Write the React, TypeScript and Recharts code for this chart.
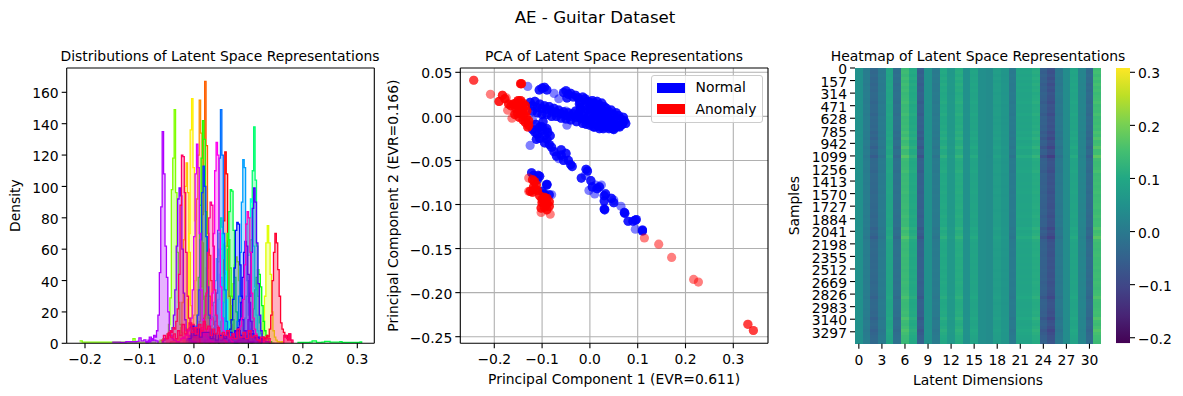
import React from 'react';
import {
  Area, Bar, BarChart, Cell, ComposedChart, Line, LineChart, ReferenceLine, Scatter, ScatterChart, XAxis, YAxis,
} from 'recharts';

const FONT = '"DejaVu Sans", sans-serif';
const TICK = { fill: '#000', fontSize: 13.9, fontFamily: FONT };
const YTICK = { ...TICK, dy: 1.2 };
const LABEL = { fill: '#000', fontSize: 13.9, fontFamily: FONT, textAnchor: 'middle' as const };
const LINE = { stroke: '#000', strokeWidth: 1.1 };

const fmt1 = (v: number) => v.toFixed(1).replace('-', '\u2212');
const fmt2 = (v: number) => v.toFixed(2).replace('-', '\u2212');

// ---------- latent histograms: density per bin, one list per latent dimension ----------
const binWidth = 0.0026;
const histPeaks = [
  0.058, 0.027, 0.021, 0.011, -0.013, -0.003, 0.136, 0.078, -0.035, 0.062, 0.017, 0.118, 0.068, 0.111, 0.05, 0.105,
  0.053, 0.045, 0.091, 0.05, 0.018, 0.08, 0.095, 0.111, -0.026, -0.057, 0.006, 0.042, 0.099, 0.031, -0.019, 0.15,
];
const hist00 = [1, 0, 2, 1, 3, 2, 2, 4, 6, 14, 34, 78, 122, 108, 62, 30, 12, 5, 3, 1, 2, 0, 1, 1];
const hist01 = [2, 1, 3, 2, 4, 3, 5, 6, 9, 16, 30, 48, 60, 56, 40, 24, 12, 7, 4, 3, 2, 1, 1, 0];
const hist02 = [1, 2, 1, 3, 2, 4, 5, 8, 14, 36, 82, 130, 167, 126, 70, 30, 11, 5, 3, 2, 1, 1, 0, 1];
const hist03 = [2, 1, 2, 3, 5, 4, 7, 9, 18, 40, 92, 120, 155, 134, 64, 28, 12, 6, 4, 2, 1, 1, 0, 0];
const hist04 = [0, 1, 1, 2, 1, 3, 2, 5, 10, 26, 66, 100, 115, 96, 58, 24, 10, 5, 2, 2, 1, 0, 1, 0];
const hist05 = [1, 1, 2, 1, 3, 2, 4, 6, 10, 28, 70, 136, 156, 112, 78, 34, 12, 6, 3, 2, 1, 1, 0, 0];
const hist06 = [0, 1, 0, 1, 1, 2, 2, 3, 6, 14, 30, 64, 75, 64, 44, 20, 8, 4, 2, 1, 1, 0, 1, 0];
const hist07 = [1, 2, 3, 2, 4, 3, 6, 8, 12, 24, 38, 50, 55, 52, 40, 26, 14, 8, 5, 3, 2, 1, 0, 1];
const hist08 = [0, 1, 2, 1, 3, 2, 4, 6, 12, 29, 98, 118, 149, 96, 58, 26, 12, 7, 4, 3, 2, 1, 1, 1];
const hist09 = [1, 2, 2, 3, 4, 5, 6, 9, 14, 26, 44, 62, 70, 66, 48, 30, 15, 8, 4, 3, 2, 1, 1, 0];
const hist10 = [1, 1, 3, 2, 4, 5, 6, 10, 18, 42, 88, 118, 142, 130, 84, 40, 16, 8, 4, 2, 1, 1, 1, 0];
const hist11 = [2, 2, 3, 4, 5, 4, 7, 9, 14, 22, 34, 42, 47, 44, 36, 24, 14, 8, 5, 3, 1, 1, 0, 0];
const hist12 = [1, 2, 2, 3, 3, 5, 6, 8, 16, 34, 60, 84, 98, 97, 72, 42, 20, 9, 4, 2, 2, 1, 0, 1];
const hist13 = [1, 1, 2, 2, 3, 3, 5, 7, 14, 32, 66, 110, 138, 104, 62, 30, 13, 6, 3, 2, 1, 1, 0, 0];
const hist14 = [2, 3, 2, 4, 4, 6, 7, 10, 18, 32, 52, 70, 80, 74, 54, 32, 16, 8, 5, 3, 2, 1, 1, 0];
const hist15 = [1, 2, 2, 3, 4, 5, 6, 9, 16, 30, 56, 80, 92, 90, 62, 36, 18, 8, 4, 2, 1, 1, 1, 0];
const hist16 = [2, 3, 3, 4, 5, 6, 8, 10, 16, 28, 44, 60, 70, 64, 46, 28, 14, 8, 4, 3, 2, 1, 0, 1];
const hist17 = [3, 2, 4, 4, 5, 7, 8, 11, 17, 26, 40, 54, 60, 56, 42, 26, 16, 9, 5, 3, 2, 1, 1, 0];
const hist18 = [1, 1, 2, 3, 3, 5, 5, 8, 14, 30, 58, 90, 117, 112, 76, 40, 18, 8, 4, 2, 1, 1, 0, 0];
const hist19 = [1, 2, 2, 3, 4, 4, 5, 8, 14, 32, 72, 118, 149, 120, 70, 34, 14, 7, 3, 2, 1, 1, 0, 1];
const hist20 = [2, 3, 2, 5, 4, 7, 8, 11, 18, 34, 66, 96, 113, 100, 68, 36, 18, 9, 5, 3, 2, 1, 1, 0];
const hist21 = [2, 2, 3, 4, 5, 6, 7, 9, 15, 28, 48, 72, 77, 76, 50, 30, 15, 8, 5, 3, 1, 1, 0, 1];
const hist22 = [2, 3, 3, 5, 5, 7, 8, 10, 15, 26, 42, 58, 65, 62, 44, 26, 14, 8, 4, 3, 2, 1, 1, 0];
const hist23 = [1, 2, 2, 3, 4, 4, 6, 8, 15, 30, 58, 86, 99, 90, 64, 38, 18, 8, 4, 3, 1, 1, 1, 0];
const hist24 = [1, 2, 3, 3, 5, 6, 7, 10, 18, 34, 62, 92, 99, 94, 60, 32, 15, 8, 5, 3, 2, 1, 1, 1];
const hist25 = [1, 0, 2, 1, 3, 2, 5, 4, 8, 18, 45, 87, 135, 108, 62, 42, 20, 8, 5, 3, 2, 2, 1, 1];
const hist26 = [2, 3, 4, 3, 6, 5, 8, 10, 16, 34, 68, 108, 127, 112, 70, 34, 15, 9, 6, 4, 3, 2, 1, 1];
const hist27 = [3, 4, 6, 5, 7, 6, 9, 10, 15, 32, 70, 110, 128, 120, 72, 36, 16, 8, 7, 5, 4, 3, 2, 1];
const hist28 = [4, 3, 6, 7, 5, 8, 9, 11, 16, 28, 50, 76, 84, 80, 58, 32, 16, 9, 6, 4, 3, 2, 1, 1];
const hist29 = [5, 4, 7, 6, 9, 7, 10, 12, 18, 32, 58, 80, 90, 88, 62, 34, 18, 11, 8, 6, 5, 3, 2, 1];
const hist30 = [3, 6, 5, 8, 7, 10, 9, 14, 22, 44, 88, 120, 119, 96, 58, 30, 16, 12, 9, 12, 8, 10, 6, 9];
const hist31 = [2, 1, 3, 2, 4, 3, 5, 4, 9, 18, 40, 58, 70, 64, 47, 30, 13, 9, 7, 4, 5, 2, 6, 2];
const histValues = [
  hist00, hist01, hist02, hist03, hist04, hist05, hist06, hist07, hist08, hist09, hist10,
  hist11, hist12, hist13, hist14, hist15, hist16, hist17, hist18, hist19, hist20, hist21,
  hist22, hist23, hist24, hist25, hist26, hist27, hist28, hist29, hist30, hist31,
];

// low far tails of a few dimensions, plus the noisy floor under the peaks
const tailGreenX = [-0.21, -0.205, -0.2, -0.116, -0.112, -0.108, -0.07];
const tailGreenY = [1.5, 0.7, 0.7, 0.9, 3, 0.7, 0];
const tailPurpleX = [-0.15, -0.135, -0.125, -0.105, -0.101, -0.097, -0.092, -0.088, -0.082, -0.078, -0.07, -0.066];
const tailPurpleY = [0.7, 0.5, 1, 1.2, 3.5, 1.5, 2.2, 1, 4, 2, 1.5, 0];
const tailRightX = [0.19, 0.213, 0.217, 0.225, 0.235, 0.24, 0.25, 0.268, 0.272, 0.305, 0.308];
const tailRightY = [0.6, 0.7, 1.6, 0.6, 0.8, 1.2, 0.7, 1, 0.5, 0.9, 0];
const floorBlueX = [-0.01, -0.005, 0, 0.005, 0.01, 0.015, 0.03, 0.035, 0.04, 0.045, 0.055, 0.06, 0.07, 0.075, 0.085, 0.09, 0.1, 0.11, 0.12, 0.125];
const floorBlueY = [3, 11, 5, 9, 4, 7, 3, 6, 2, 5, 3, 7, 4, 8, 5, 3, 6, 4, 3, 0];
const floorPinkX = [
  -0.06, -0.056, -0.052, -0.047, -0.043, -0.038, -0.034, -0.03, -0.026, -0.022, -0.017, -0.013, -0.009, -0.004, 0, 0.004, 0.008, 0.013, 0.017, 0.021, 0.025, 0.03, 0.034,
  0.038, 0.043, 0.047, 0.052, 0.056, 0.06, 0.065, 0.07, 0.074, 0.079, 0.084, 0.09, 0.095, 0.1, 0.105, 0.11, 0.116, 0.122, 0.128, 0.134, 0.14, 0.165, 0.17, 0.174, 0.178, 0.182,
];
const floorPinkY = [
  2, 5, 3, 7, 4, 6, 3, 8, 5, 12, 6, 9, 13, 7, 10, 6, 12, 8, 14, 9, 11, 5, 9,
  6, 10, 4, 7, 5, 8, 4, 6, 3, 9, 4, 7, 3, 8, 4, 5, 2, 4, 2, 3, 0, 5, 3, 6, 2, 0,
];

const histRows = histValues.map((values, d) => {
  const start = histPeaks[d] - 12.5 * binWidth;
  return [
    ...values.map((y, i) => ({ x: start + i * binWidth, y })),
    { x: start + values.length * binWidth, y: 0 },
  ];
});
const dimColor = (d: number) => `hsl(${(d / 32) * 360}, 100%, 50%)`;
const toRows = (xs: number[], ys: number[]) => xs.map((x, i) => ({ x, y: ys[i] }));

// ---------- PCA scatter: heavily overplotted clusters and the lone translucent points ----------
const normalCoreX = [
  -0.055, -0.05, -0.045, -0.04, -0.035, -0.03, -0.048, -0.025, -0.02, -0.015, -0.01, -0.005, -0.02, -0.012, -0.005, 0, 0.005, 0.01, 0.015, 0.02, 0.025, 0.03,
  0, 0.005, 0.012, 0.02, 0.028, 0.035, 0.04, 0.045, 0.05, 0.055, 0.06, 0.065, 0.07, 0.075, 0.072, 0.035, 0.042, 0.05, 0.058, 0.065,
  -0.125, -0.12, -0.115, -0.11, -0.105, -0.1, -0.095, -0.09, -0.085, -0.08, -0.075, -0.07, -0.065, -0.06, -0.055, -0.05, -0.045, -0.04, -0.035, -0.03, -0.025, -0.02, -0.015, -0.01, -0.005, 0, 0.005, 0.01, 0.015, 0.02, 0.025, 0.03, 0.035, 0.04, 0.045, 0.05, 0.055, 0.01, 0, 0.02,
  -0.12, -0.11, -0.1, -0.09, -0.08, -0.07, -0.06, -0.05, -0.04, -0.03, -0.028, -0.02, -0.012, -0.022, -0.015, -0.008, 0.008, 0.018, 0.028, 0.038, 0.048, 0.002, 0.012, 0.022, 0.032, 0.042, 0.052, 0.062, 0.008, 0.018, 0.028, 0.038, 0.048, 0.06, 0.068,
  -0.106, -0.1, -0.095, -0.09,
  -0.12, -0.115, -0.11, -0.105, -0.1, -0.105, -0.095, -0.09, -0.083, -0.085, -0.08, -0.075, -0.09, -0.095, -0.07, -0.06, -0.06, -0.05, -0.055, -0.045, -0.037, -0.04, -0.113, -0.098, -0.088, -0.112, -0.1,
  -0.018, -0.008, -0.005, 0.002, 0.005, 0.015, 0.02, 0.03, 0.033, 0.03, 0.03, 0.031, 0.045, 0.05, 0.072, 0.073, 0.08, 0.09, 0.095, 0.097, 0.11, 0.11,
  -0.122, -0.118, -0.105, -0.108, -0.11, -0.09, -0.09, -0.085, -0.095, -0.1,
];
const normalCoreY = [
  0.027, 0.029, 0.025, 0.026, 0.022, 0.024, 0.021, 0.021, 0.016, 0.022, 0.02, 0.017, 0.01, 0.012, 0.008, 0.016, 0.018, 0.015, 0.017, 0.013, 0.015, 0.011,
  0.009, 0.007, 0.006, 0.005, 0.006, 0.009, 0.005, 0.007, 0.002, 0.004, 0.001, -0.003, -0.001, -0.008, -0.005, 0.001, -0.002, -0.005, -0.006, -0.01,
  0.016, 0.012, 0.017, 0.01, 0.014, 0.009, 0.012, 0.008, 0.011, 0.006, 0.009, 0.004, 0.007, 0.003, 0.005, 0.001, 0.004, 0, 0.003, -0.001, 0.002, -0.002, 0.001, -0.004, -0.001, -0.005, -0.002, -0.007, -0.004, -0.01, -0.006, -0.012, -0.008, -0.014, -0.01, -0.015, -0.012, -0.012, -0.01, -0.014,
  0.006, 0.004, 0.002, 0.002, 0, 0, -0.002, -0.003, -0.004, 0.006, -0.006, 0.008, 0.004, 0.014, -0.008, -0.009, 0.01, 0.009, 0.001, -0.004, -0.008, 0.002, 0.001, -0.002, -0.004, -0.007, -0.01, -0.012, -0.012, -0.011, -0.014, -0.012, -0.014, -0.011, -0.009,
  0.03, 0.032, 0.033, 0.03,
  -0.015, -0.018, -0.02, -0.012, -0.016, -0.025, -0.022, -0.026, -0.022, -0.032, -0.035, -0.04, -0.014, -0.03, -0.045, -0.044, -0.038, -0.042, -0.05, -0.05, -0.057, -0.055, -0.009, -0.006, -0.018, -0.026, -0.012,
  -0.07, -0.06, -0.062, -0.073, -0.08, -0.082, -0.08, -0.09, -0.088, -0.096, -0.105, -0.106, -0.093, -0.098, -0.109, -0.11, -0.119, -0.119, -0.118, -0.117, -0.13, -0.129,
  -0.064, -0.067, -0.068, -0.067, -0.072, -0.077, -0.078, -0.089, -0.088, -0.085,
];
const normalLoneX = [-0.13, -0.075, -0.065, -0.125, -0.05, -0.048, -0.094, -0.065, 0.024, 0.01, -0.002, -0.01, 0.065, 0.095, -0.08, 0.012, 0.05, -0.12];
const normalLoneY = [0.034, 0.026, 0.02, -0.033, 0.006, -0.01, -0.015, -0.048, -0.078, -0.088, -0.084, -0.067, -0.102, -0.128, -0.089, -0.078, -0.095, -0.004];
const anomalyCoreX = [
  -0.145, -0.143, -0.183, -0.19, -0.178, -0.17, -0.165, -0.16, -0.155, -0.15, -0.145, -0.14, -0.155, -0.148, -0.14, -0.135, -0.132, -0.152, -0.145, -0.138, -0.148, -0.14, -0.133, -0.135, -0.128, -0.128, -0.157, -0.142, -0.13,
  -0.12, -0.116, -0.118, -0.112, -0.125, -0.12, -0.115, -0.11, -0.105, -0.1, -0.095, -0.09, -0.1, -0.095, -0.09, -0.085, -0.102, -0.095, -0.09, -0.085,
];
const anomalyCoreY = [
  0.037, 0.037, 0.024, 0.017, 0.02, 0.014, 0.012, 0.014, 0.015, 0.018, 0.018, 0.015, 0.009, 0.01, 0.008, 0.012, 0.006, 0.004, 0.003, 0.002, -0.001, -0.004, -0.001, -0.007, -0.005, -0.01, 0.002, 0.012, -0.012,
  -0.072, -0.074, -0.08, -0.078, -0.085, -0.086, -0.083, -0.084, -0.09, -0.094, -0.092, -0.093, -0.098, -0.098, -0.099, -0.097, -0.104, -0.103, -0.106, -0.102,
];
const anomalyLoneX = [-0.243, -0.243, -0.208, -0.175, -0.163, -0.172, -0.128, -0.128, -0.102, -0.083, 0.114, 0.144, 0.171, 0.217, 0.227, 0.33, 0.342, 0.331, 0.342];
const anomalyLoneY = [0.041, 0.041, 0.025, 0.021, -0.002, 0.007, -0.07, -0.085, -0.109, -0.111, -0.138, -0.145, -0.16, -0.185, -0.188, -0.236, -0.243, -0.236, -0.243];
const normalCoreRows = toRows(normalCoreX, normalCoreY);
const normalLoneRows = toRows(normalLoneX, normalLoneY);
const anomalyCoreRows = toRows(anomalyCoreX, anomalyCoreY);
const anomalyLoneRows = toRows(anomalyLoneX, anomalyLoneY);
const pcaXTicks = [-0.2, -0.1, 0, 0.1, 0.2, 0.3];
const pcaYTicks = [-0.25, -0.2, -0.15, -0.1, -0.05, 0, 0.05];

// ---------- heatmap: level of each latent column, contrast of each row band ----------
const columnLevels = [
  0.049, 0.007, -0.034, 0.002, 0.09, -0.019, 0.137, 0.1, -0.05, 0.049, 0.002, 0.1, 0.064, 0.106, 0.049, 0.09,
  0.044, 0.038, 0.075, 0.059, 0.002, 0.09, 0.09, 0.106, -0.05, -0.076, -0.003, 0.038, 0.09, 0.023, -0.029, 0.142,
];
const rowContrast = [
  1.03, 1.07, 0.98, 1.08, 0.99, 1.1, 1.0, 1.06, 0.97, 1.01, 1.04, 1.12, 0.99, 1.03, 1.0, 1.11,
  0.98, 1.02, 0.99, 1.05, 1.0, 1.14, 1.03, 1.2, 1.01, 1.06, 1.25, 1.03, 1.05, 1.33, 1.04, 0.99,
  1.0, 1.03, 1.12, 0.98, 1.01, 1.0, 1.03, 0.99, 1.02, 1.06, 0.98, 1.01, 1.0, 1.03, 1.05, 0.99,
  1.02, 1.09, 1.0, 1.03, 1.01, 1.2, 1.04, 1.11, 1.3, 1.06, 1.0, 1.02, 0.98, 1.01, 1.04, 0.99,
  1.02, 1.0, 1.03, 0.98, 1.01, 1.03, 0.99, 1.05, 1.01, 0.98, 1.03, 1.06, 1.2, 1.02, 0.99, 1.0,
  1.03, 1.08, 1.03, 1.22, 1.05, 1.0, 1.1, 1.23, 1.11, 1.03, 1.01, 0.99,
];
const sampleTicks = [
  0, 157, 314, 471, 628, 785, 942, 1099, 1256, 1413, 1570, 1727, 1884, 2041, 2198, 2355, 2512, 2669, 2826, 2983, 3140, 3297,
];
const dimTicks = [0.5, 3.5, 6.5, 9.5, 12.5, 15.5, 18.5, 21.5, 24.5, 27.5, 30.5];

const viridis = [
  '#440154', '#482475', '#414487', '#355f8d', '#2a788e', '#21918c', '#22a884', '#44bf70', '#7ad151', '#bddf26', '#fde725',
];
const barMin = -0.2105;
const barMax = 0.3081;
const hexRgb = (h: string) => [1, 3, 5].map((i) => parseInt(h.slice(i, i + 2), 16));
const viridisAt = (v: number) => {
  const t = Math.min(0.9999, Math.max(0, (v - barMin) / (barMax - barMin))) * 10;
  const i = Math.floor(t);
  const a = hexRgb(viridis[i]);
  const b = hexRgb(viridis[i + 1]);
  const c = a.map((n, k) => Math.round(n + (b[k] - n) * (t - i)));
  return `rgb(${c[0]},${c[1]},${c[2]})`;
};
const heatColors = rowContrast.map((c) => columnLevels.map((l) => viridisAt(0.04 + (l - 0.04) * c)));
const heatRows = rowContrast.map((_, r) => {
  const row: Record<string, number> = { row: r };
  columnLevels.forEach((_l, d) => { row[`d${d}`] = 1; });
  return row;
});
const sampleRows = sampleTicks.map((s) => ({ s, pos: 0.5 }));
const colorbarData = [{ name: 'scale', range: [barMin, barMax] }];
const colorbarTicks = [-0.2, -0.1, 0, 0.1, 0.2, 0.3];

const Title: React.FC<{ x: number; y: number; size: number; text: string }> = ({ x, y, size, text }) => (
  <div style={{
    position: 'absolute', left: x - 250, top: y, width: 500, textAlign: 'center',
    fontFamily: FONT, fontSize: size, lineHeight: '20px', color: '#000', whiteSpace: 'nowrap',
  }}>{text}</div>
);

const pcaDot = (fill: string) => (p: any) => <circle cx={p.cx} cy={p.cy} r={4.6} fill={fill} fillOpacity={0.5} />;

const App: React.FC = () => {
  const hx: [number, number] = [-0.2336, 0.3312];
  const hy: [number, number] = [0, 175.5];
  const px: [number, number] = [-0.2711, 0.3726];
  const py: [number, number] = [-0.2575, 0.0549];
  const passes = [0, 1, 2];
  return (
    <div style={{ position: 'absolute', left: 0, top: 0, width: 1183, height: 396, background: '#fff', overflow: 'hidden' }}>
      <Title x={595} y={8} size={16.67} text="AE - Guitar Dataset" />
      <Title x={220} y={46} size={13.9} text="Distributions of Latent Space Representations" />
      <Title x={614} y={46} size={13.9} text="PCA of Latent Space Representations" />
      <Title x={978} y={46} size={13.9} text="Heatmap of Latent Space Representations" />

      <div style={{ position: 'absolute', left: 0, top: 0 }}>
        <ComposedChart width={390} height={396} margin={{ left: 0, right: 15.7, top: 68, bottom: 12.7 }}>
          <XAxis dataKey="x" type="number" domain={hx} allowDataOverflow ticks={pcaXTicks} tickFormatter={fmt1}
            height={40} interval={0} tick={TICK} axisLine={LINE} tickLine={LINE} tickSize={5} tickMargin={6}
            label={{ value: 'Latent Values', position: 'insideBottom', offset: -1, style: LABEL }} />
          <YAxis dataKey="y" type="number" domain={hy} allowDataOverflow ticks={[0, 20, 40, 60, 80, 100, 120, 140, 160]}
            width={66.7} interval={0} tick={YTICK} axisLine={LINE} tickLine={LINE} tickSize={5} tickMargin={3}
            label={{ value: 'Density', angle: -90, position: 'insideLeft', dx: 10, style: LABEL }} />
          <Area data={toRows(tailGreenX, tailGreenY)} dataKey="y" type="stepAfter" stroke={dimColor(8)} strokeWidth={1.3} fill={dimColor(8)} fillOpacity={0.3} dot={false} activeDot={false} isAnimationActive={false} />
          <Area data={toRows(tailRightX, tailRightY)} dataKey="y" type="stepAfter" stroke={dimColor(12)} strokeWidth={1.3} fill={dimColor(12)} fillOpacity={0.3} dot={false} activeDot={false} isAnimationActive={false} />
          {histRows.map((rows, d) => (
            <Area key={d} data={rows} dataKey="y" type="stepAfter" stroke={dimColor(d)} strokeWidth={1.3}
              fill={dimColor(d)} fillOpacity={0.3} dot={false} activeDot={false} isAnimationActive={false} />
          ))}
          <Area data={toRows(tailPurpleX, tailPurpleY)} dataKey="y" type="stepAfter" stroke={dimColor(25)} strokeWidth={1.3} fill={dimColor(25)} fillOpacity={0.3} dot={false} activeDot={false} isAnimationActive={false} />
          <Area data={toRows(floorBlueX, floorBlueY)} dataKey="y" type="stepAfter" stroke={dimColor(22)} strokeWidth={1.3} fill={dimColor(22)} fillOpacity={0.35} dot={false} activeDot={false} isAnimationActive={false} />
          <Area data={toRows(floorPinkX, floorPinkY)} dataKey="y" type="stepAfter" stroke={dimColor(30)} strokeWidth={1.3} fill={dimColor(30)} fillOpacity={0.45} dot={false} activeDot={false} isAnimationActive={false} />
          <ReferenceLine x={hx[1]} stroke="#000" strokeWidth={1.1} />
          <ReferenceLine y={hy[1]} stroke="#000" strokeWidth={1.1} />
        </ComposedChart>
      </div>

      <div style={{ position: 'absolute', left: 385, top: 0 }}>
        <ScatterChart width={390} height={396} margin={{ left: 0, right: 7, top: 68, bottom: 12.7 }}>
          <XAxis dataKey="x" type="number" domain={px} allowDataOverflow ticks={pcaXTicks} tickFormatter={fmt1}
            height={40} interval={0} tick={TICK} axisLine={LINE} tickLine={LINE} tickSize={5} tickMargin={6}
            label={{ value: 'Principal Component 1 (EVR=0.611)', position: 'insideBottom', offset: -1, style: LABEL }} />
          <YAxis dataKey="y" type="number" domain={py} allowDataOverflow ticks={pcaYTicks} tickFormatter={fmt2}
            width={75.3} interval={0} tick={YTICK} axisLine={LINE} tickLine={LINE} tickSize={5} tickMargin={3}
            label={{ value: 'Principal Component 2 (EVR=0.166)', angle: -90, position: 'insideLeft', dx: 3, style: LABEL }} />
          <Scatter name="Normal lone" data={normalLoneRows} shape={pcaDot('#0000ff')} isAnimationActive={false} />
          {passes.map((k) => <Scatter key={`n${k}`} name="Normal" data={normalCoreRows} shape={pcaDot('#0000ff')} isAnimationActive={false} />)}
          <Scatter name="Anomaly lone" data={anomalyLoneRows} shape={pcaDot('#ff0000')} isAnimationActive={false} />
          {passes.map((k) => <Scatter key={`a${k}`} name="Anomaly" data={anomalyCoreRows} shape={pcaDot('#ff0000')} isAnimationActive={false} />)}
          {pcaXTicks.map((v) => <ReferenceLine key={`x${v}`} x={v} stroke="#b0b0b0" strokeWidth={1.1} />)}
          {pcaYTicks.map((v) => <ReferenceLine key={`y${v}`} y={v} stroke="#b0b0b0" strokeWidth={1.1} />)}
          <ReferenceLine x={px[1]} stroke="#000" strokeWidth={1.1} />
          <ReferenceLine y={py[1]} stroke="#000" strokeWidth={1.1} />
        </ScatterChart>
      </div>

      <div style={{
        position: 'absolute', left: 650.5, top: 74.5, width: 110, height: 46, boxSizing: 'content-box',
        border: '1px solid #ccc', borderRadius: 3, background: 'rgba(255,255,255,0.8)',
        fontFamily: FONT, fontSize: 13.9, color: '#000',
      }}>
        <div style={{ position: 'absolute', left: 5, top: 7, width: 28, height: 10, background: '#0000ff' }} />
        <div style={{ position: 'absolute', left: 44, top: 1, lineHeight: '20px' }}>Normal</div>
        <div style={{ position: 'absolute', left: 5, top: 28, width: 28, height: 10, background: '#ff0000' }} />
        <div style={{ position: 'absolute', left: 44, top: 23, lineHeight: '20px' }}>Anomaly</div>
      </div>

      <div style={{ position: 'absolute', left: 785, top: 0 }}>
        <BarChart layout="vertical" width={326} height={396} data={heatRows} barCategoryGap={0}
          margin={{ left: 70, right: 10, top: 67.7, bottom: 12.3 }}>
          <XAxis type="number" domain={[0, 32]} allowDataOverflow ticks={dimTicks} tickFormatter={(v: number) => String(v - 0.5)}
            height={40} interval={0} tick={TICK} axisLine={false} tickLine={LINE} tickSize={5} tickMargin={6}
            label={{ value: 'Latent Dimensions', position: 'insideBottom', offset: -1, style: LABEL }} />
          <YAxis type="category" dataKey="row" hide />
          {columnLevels.map((_l, d) => (
            <Bar key={d} dataKey={`d${d}`} stackId="heat" isAnimationActive={false} shapeRendering="crispEdges">
              {heatRows.map((_r, r) => <Cell key={r} fill={heatColors[r][d]} />)}
            </Bar>
          ))}
        </BarChart>
      </div>

      {/* sample ticks sit on their own scale, not on the drawn row bands */}
      <div style={{ position: 'absolute', left: 785, top: 0 }}>
        <LineChart width={326} height={396} data={sampleRows} margin={{ left: 0, right: 10, top: 68, bottom: 52.7 }}>
          <XAxis dataKey="pos" type="number" domain={[0, 1]} hide />
          <YAxis type="number" reversed domain={[0, 3441]} allowDataOverflow ticks={sampleTicks}
            width={70} interval={0} tick={YTICK} axisLine={false} tickLine={LINE} tickSize={5} tickMargin={3}
            label={{ value: 'Samples', angle: -90, position: 'insideLeft', dx: 4, style: LABEL }} />
          <Line dataKey="s" stroke="none" dot={false} activeDot={false} isAnimationActive={false} />
        </LineChart>
      </div>

      <div style={{ position: 'absolute', left: 1112, top: 0 }}>
        <BarChart width={71} height={396} data={colorbarData} barCategoryGap={0} margin={{ left: 4, right: 0, top: 68, bottom: 52.7 }}>
          <defs>
            <linearGradient id="viridisBar" x1="0" y1="1" x2="0" y2="0">
              {viridis.map((c, i) => <stop key={c} offset={i / 10} stopColor={c} />)}
            </linearGradient>
          </defs>
          <XAxis dataKey="name" hide />
          <YAxis orientation="right" type="number" domain={[barMin, barMax]} allowDataOverflow ticks={colorbarTicks} tickFormatter={fmt1}
            width={53} interval={0} tick={YTICK} axisLine={false} tickLine={LINE} tickSize={5} tickMargin={3} />
          <Bar dataKey="range" fill="url(#viridisBar)" isAnimationActive={false} />
        </BarChart>
      </div>
    </div>
  );
};

export default App;
